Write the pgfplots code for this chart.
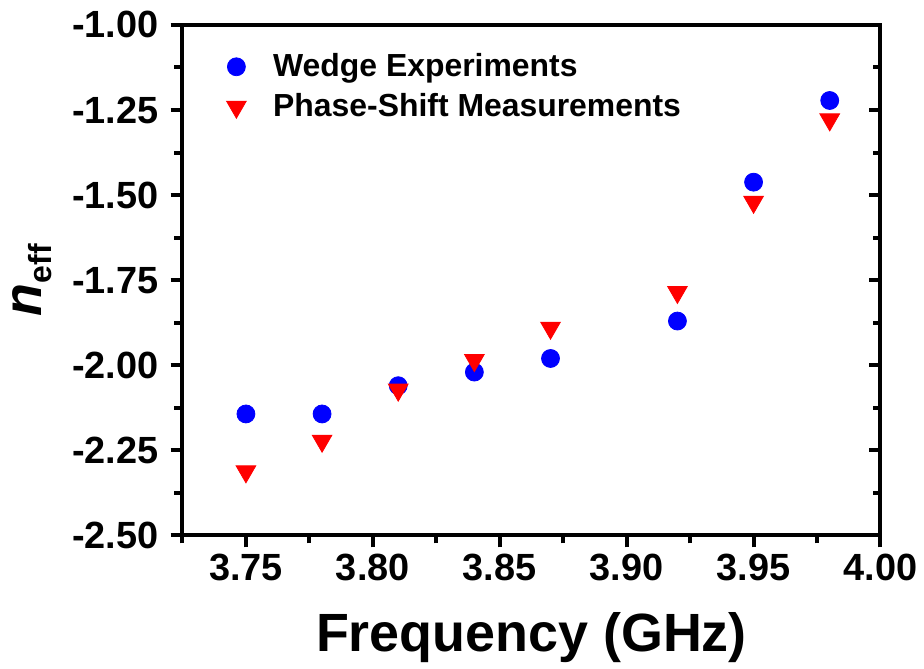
\documentclass[border=0pt]{standalone}
\usepackage{pgfplots}
\pgfplotsset{compat=1.18}
\usepackage{fontspec}
\setmainfont{Liberation Sans}
\definecolor{myblue}{RGB}{0,0,255}
\definecolor{myred}{RGB}{255,0,0}
\pgfplotstableread{
x y
3.75 -2.143
3.78 -2.143
3.81 -2.060
3.84 -2.020
3.87 -1.980
3.92 -1.870
3.95 -1.462
3.98 -1.222
}\wedge
\pgfplotstableread{
x y
3.75 -2.312
3.78 -2.222
3.81 -2.072
3.84 -1.985
3.87 -1.890
3.92 -1.785
3.95 -1.520
3.98 -1.278
}\phase
\begin{document}
\begin{tikzpicture}
\pgfplotsset{
  common/.style={
    width=350pt, height=256pt, scale only axis,
    xmin=3.725, xmax=4.0, ymin=-2.5, ymax=-1.0,
    axis line style={line width=2pt},
    every tick/.style={line width=2pt, black},
    major tick length=6pt, minor tick length=4pt,
    ytick={-2.5,-2.25,...,-1.0},
    minor ytick={-2.375,-2.125,-1.875,-1.625,-1.375,-1.125},
  }
}
\begin{axis}[
  common,
  name=main,
  xtick={3.75,3.80,3.85,3.90,3.95,4.00},
  minor xtick={3.725,3.775,3.825,3.875,3.925,3.975},
  xtick pos=bottom, ytick pos=left,
  tick align=outside,
  /pgf/number format/assume math mode=true,
  ticklabel style={font=\fontsize{19}{22}\selectfont\bfseries},
  xticklabel style={/pgf/number format/.cd, fixed, fixed zerofill, precision=2},
  yticklabel style={xshift=-2.5pt, /pgf/number format/.cd, fixed, fixed zerofill, precision=2},
  xlabel={Frequency (GHz)},
  xlabel style={font=\fontsize{27}{30}\selectfont\bfseries, at={(axis description cs:0.5,-0.2266)}, anchor=base},
  ylabel={\fontsize{27}{30}\selectfont\bfseries\itshape n\fontsize{16}{19}\selectfont\upshape\raisebox{-5pt}{eff}},
  ylabel style={font=\bfseries, at={(axis description cs:-0.2014,0.5)}, anchor=base},
  legend style={at={(rel axis cs:0.054,0.96)}, anchor=north west, draw=none, fill=none,
    font=\fontsize{16}{19}\selectfont\bfseries, row sep=3pt},
  legend cell align=left,
]
\addplot[only marks, mark=*, mark size=4.5pt, color=myblue] table {\wedge};
\addlegendentry{\hspace*{11.5pt}Wedge Experiments}
\addplot[only marks, mark=triangle*, mark size=5.7pt, color=myred, mark options={rotate=180}] table {\phase};
\addlegendentry{\hspace*{11.5pt}Phase-Shift Measurements}
\end{axis}
\begin{axis}[
  common,
  xtick=\empty,
  ytick pos=right,
  tick align=inside,
  yticklabels={},
]
\end{axis}
\path (main.south west) ++(-91.5pt,-64.5pt) rectangle ++(462pt,333pt);
\end{tikzpicture}
\end{document}
